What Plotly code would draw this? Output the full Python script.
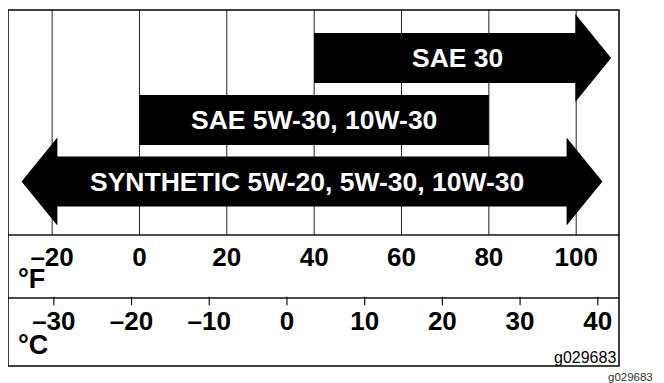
import plotly.graph_objects as go

# ---- data ----
oil_labels = ["SAE 30", "SAE 5W-30, 10W-30", "SYNTHETIC 5W-20, 5W-30, 10W-30"]
oil_low_F = [40, 0, -27]        # left end (tip if arrow) in °F
oil_high_F = [108, 80, 106]     # right end (tip if arrow) in °F
oil_left_arrow = [False, False, True]
oil_right_arrow = [True, False, True]

f_ticks = [-20, 0, 20, 40, 60, 80, 100]
f_tick_labels = ["–20", "0", "20", "40", "60", "80", "100"]
c_ticks = [-30, -20, -10, 0, 10, 20, 30, 40]
c_tick_labels = ["–30", "–20", "–10", "0", "10", "20", "30", "40"]
figure_code = "g029683"

# ---- layout constants ----
# page has an 8px body margin, so the figure is drawn 656x375
W, H = 656, 375
F_RANGE = [-30.1, 109.8]
C_RANGE = [-35.9, 42.73]
Y_TOP, Y_BOT = 10, 366          # plot box (y units = page px from top)
SEP1, SEP2 = 235, 298           # row separators
ROW_Y = [58, 120, 181.5]        # bar centres
BODY_HALF = 25
HEAD_HALF = 44
HEAD_LEN = 8.2                  # in °F units
FONT = "Liberation Sans, Arial, sans-serif"

fig = go.Figure()

shapes = []
for f in f_ticks:
    shapes.append(dict(type="line", xref="x", yref="y", x0=f, x1=f, y0=Y_TOP, y1=SEP1,
                       line=dict(color="#222", width=1), layer="below"))
for s in (SEP1, SEP2):
    shapes.append(dict(type="line", xref="paper", yref="y", x0=0, x1=1, y0=s, y1=s,
                       line=dict(color="#111", width=1.3)))
shapes.append(dict(type="rect", xref="paper", yref="paper", x0=0, x1=1, y0=0, y1=1,
                   line=dict(color="#000", width=1.5)))

for lab, lo, hi, la, ra, yc in zip(oil_labels, oil_low_F, oil_high_F,
                                    oil_left_arrow, oil_right_arrow, ROW_Y):
    xs, ys = [], []
    if la:
        xs += [lo + HEAD_LEN, lo + HEAD_LEN, lo, lo + HEAD_LEN, lo + HEAD_LEN]
        ys += [yc - BODY_HALF, yc - HEAD_HALF, yc, yc + HEAD_HALF, yc + BODY_HALF]
    else:
        xs += [lo, lo]
        ys += [yc - BODY_HALF, yc + BODY_HALF]
    if ra:
        xs += [hi - HEAD_LEN, hi - HEAD_LEN, hi, hi - HEAD_LEN, hi - HEAD_LEN]
        ys += [yc + BODY_HALF, yc + HEAD_HALF, yc, yc - HEAD_HALF, yc - BODY_HALF]
    else:
        xs += [hi, hi]
        ys += [yc + BODY_HALF, yc - BODY_HALF]
    xs.append(xs[0]); ys.append(ys[0])
    fig.add_trace(go.Scatter(x=xs, y=ys, mode="lines", fill="toself",
                             fillcolor="black", line=dict(width=0, color="black"),
                             hoverinfo="skip", showlegend=False))
    fig.add_annotation(x=(lo + hi) / 2, y=yc, xref="x", yref="y", text=lab,
                       showarrow=False, xshift=-5 if (la or ra) else 0,
                       font=dict(family=FONT, size=26.5, color="white", weight="bold"))

fig.add_trace(go.Scatter(x=f_ticks, y=[259] * len(f_ticks), mode="text",
                         text=f_tick_labels, textposition="middle center",
                         textfont=dict(family=FONT, size=26, color="black", weight="bold"),
                         hoverinfo="skip", showlegend=False))
fig.add_trace(go.Scatter(x=c_ticks, y=[301] * len(c_ticks), mode="markers",
                         xaxis="x2", yaxis="y",
                         marker=dict(symbol="line-ns", size=6,
                                     line=dict(color="#111", width=1.2)),
                         hoverinfo="skip", showlegend=False))
fig.add_trace(go.Scatter(x=c_ticks, y=[323] * len(c_ticks), mode="text",
                         xaxis="x2", yaxis="y",
                         text=c_tick_labels, textposition="middle center",
                         textfont=dict(family=FONT, size=26, color="black", weight="bold"),
                         hoverinfo="skip", showlegend=False))

fig.add_annotation(x=0, xref="paper", y=279, yref="y", text="°F", showarrow=False,
                   xanchor="left", yanchor="middle", xshift=8,
                   font=dict(family=FONT, size=27, color="black", weight="bold"))
fig.add_annotation(x=0, xref="paper", y=345, yref="y", text="°C", showarrow=False,
                   xanchor="left", yanchor="middle", xshift=8,
                   font=dict(family=FONT, size=27, color="black", weight="bold"))

fig.add_annotation(x=1, xref="paper", y=357, yref="y", text=figure_code, showarrow=False,
                   xanchor="right", yanchor="middle", xshift=-1,
                   font=dict(family=FONT, size=16, color="black"))
fig.add_annotation(x=1, xref="paper", y=0, yref="paper", text=figure_code, showarrow=False,
                   xanchor="right", yanchor="top", xshift=36, yshift=-3,
                   font=dict(family=FONT, size=11.5, color="#333"))

fig.update_layout(
    width=W, height=H,
    margin=dict(l=0, r=(W + 8) - 619, t=Y_TOP - 8, b=(H + 8) - Y_BOT, pad=0),
    paper_bgcolor="white", plot_bgcolor="white",
    shapes=shapes,
    xaxis=dict(range=F_RANGE, visible=False, fixedrange=True),
    xaxis2=dict(range=C_RANGE, visible=False, overlaying="x", fixedrange=True),
    yaxis=dict(range=[Y_BOT, Y_TOP], visible=False, fixedrange=True),
    showlegend=False,
)

fig.write_html("out.html", config={"displayModeBar": False})
